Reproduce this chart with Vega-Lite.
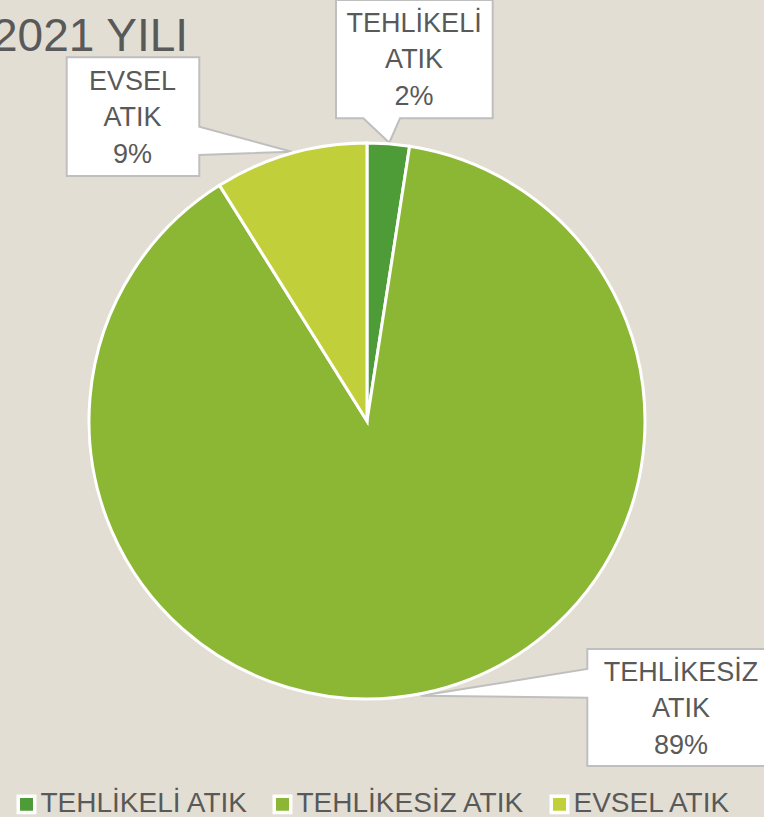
{
  "$schema": "https://vega.github.io/schema/vega-lite/v6.json",
  "width": 734,
  "height": 792,
  "autosize": {"type": "none"},
  "padding": {"left": 0, "top": 25, "right": 30, "bottom": 0},
  "background": "#e3ded4",
  "view": {"stroke": null},
  "title": {
    "text": "2021 YILI",
    "anchor": "start",
    "frame": "group",
    "font": "Liberation Sans",
    "fontSize": 46,
    "fontWeight": "normal",
    "color": "#595959",
    "baseline": "alphabetic",
    "offset": 0,
    "dx": -8,
    "dy": 101
  },
  "data": {
    "values": [
      {"kategori": "TEHLİKELİ ATIK", "pay": 2.45, "etiket": "TEHLİKELİ\nATIK\n2%"},
      {"kategori": "TEHLİKESİZ ATIK", "pay": 88.65, "etiket": "TEHLİKESİZ\nATIK\n89%"},
      {"kategori": "EVSEL ATIK", "pay": 8.9, "etiket": "EVSEL\nATIK\n9%"}
    ]
  },
  "transform": [
    {"window": [{"op": "row_number", "as": "sira"}]}
  ],
  "layer": [
    {
      "mark": {"type": "point", "filled": true, "fill": "white", "stroke": "#bfbfbf", "strokeWidth": 2, "opacity": 1},
      "encoding": {
        "shape": {
          "field": "etiket",
          "type": "nominal",
          "legend": null,
          "scale": {
            "domain": ["TEHLİKELİ\nATIK\n2%", "TEHLİKESİZ\nATIK\n89%", "EVSEL\nATIK\n9%"],
            "range": [
              "M-31,-421H125.7V-302.7H33L22.3,-278.3L-3.7,-302.7H-31Z",
              "M220.3,228H408V345H220.3V276.7L53.7,274.7L220.3,248Z",
              "M-300.3,-363.7H-167.7V-294.3L-75.3,-269.3L-167.7,-266V-245H-300.3Z"
            ]
          }
        },
        "size": {"value": 4}
      }
    },
    {
      "mark": {"type": "arc", "outerRadius": 278, "stroke": "white", "strokeWidth": 3},
      "encoding": {
        "theta": {"field": "pay", "type": "quantitative", "stack": true},
        "order": {"field": "sira", "type": "quantitative"},
        "color": {
          "field": "kategori",
          "type": "nominal",
          "scale": {
            "domain": ["TEHLİKELİ ATIK", "TEHLİKESİZ ATIK", "EVSEL ATIK"],
            "range": ["#4e9c38", "#8bb735", "#c1d03a"]
          },
          "legend": {
            "title": null,
            "orient": "none",
            "direction": "horizontal",
            "legendX": 12.5,
            "legendY": 765,
            "padding": 0,
            "symbolType": "square",
            "symbolSize": 272,
            "symbolStrokeColor": "white",
            "symbolStrokeWidth": 3.5,
            "symbolOpacity": 1,
            "labelFont": "Liberation Sans",
            "labelFontSize": 28,
            "labelColor": "#595959",
            "labelOffset": 0,
            "labelLimit": 400,
            "columnPadding": 18
          }
        }
      }
    },
    {
      "mark": {"type": "text", "radius": 363.6, "thetaOffset": 0.053, "dy": -36.5, "font": "Liberation Sans", "fontSize": 27, "lineHeight": 36.5, "lineBreak": "\n", "color": "#595959", "align": "center", "baseline": "middle"},
      "encoding": {
        "theta": {"field": "pay", "type": "quantitative", "stack": true},
        "order": {"field": "sira", "type": "quantitative"},
        "text": {"condition": {"test": "datum.kategori === 'TEHLİKELİ ATIK'", "field": "etiket"}, "value": ""}
      }
    },
    {
      "mark": {"type": "text", "radius": 426.1, "thetaOffset": -0.6259, "dy": -36.5, "font": "Liberation Sans", "fontSize": 27, "lineHeight": 36.5, "lineBreak": "\n", "color": "#595959", "align": "center", "baseline": "middle"},
      "encoding": {
        "theta": {"field": "pay", "type": "quantitative", "stack": true},
        "order": {"field": "sira", "type": "quantitative"},
        "text": {"condition": {"test": "datum.kategori === 'TEHLİKESİZ ATIK'", "field": "etiket"}, "value": ""}
      }
    },
    {
      "mark": {"type": "text", "radius": 382.8, "thetaOffset": -0.3798, "dy": -36.5, "font": "Liberation Sans", "fontSize": 27, "lineHeight": 36.5, "lineBreak": "\n", "color": "#595959", "align": "center", "baseline": "middle"},
      "encoding": {
        "theta": {"field": "pay", "type": "quantitative", "stack": true},
        "order": {"field": "sira", "type": "quantitative"},
        "text": {"condition": {"test": "datum.kategori === 'EVSEL ATIK'", "field": "etiket"}, "value": ""}
      }
    }
  ]
}
